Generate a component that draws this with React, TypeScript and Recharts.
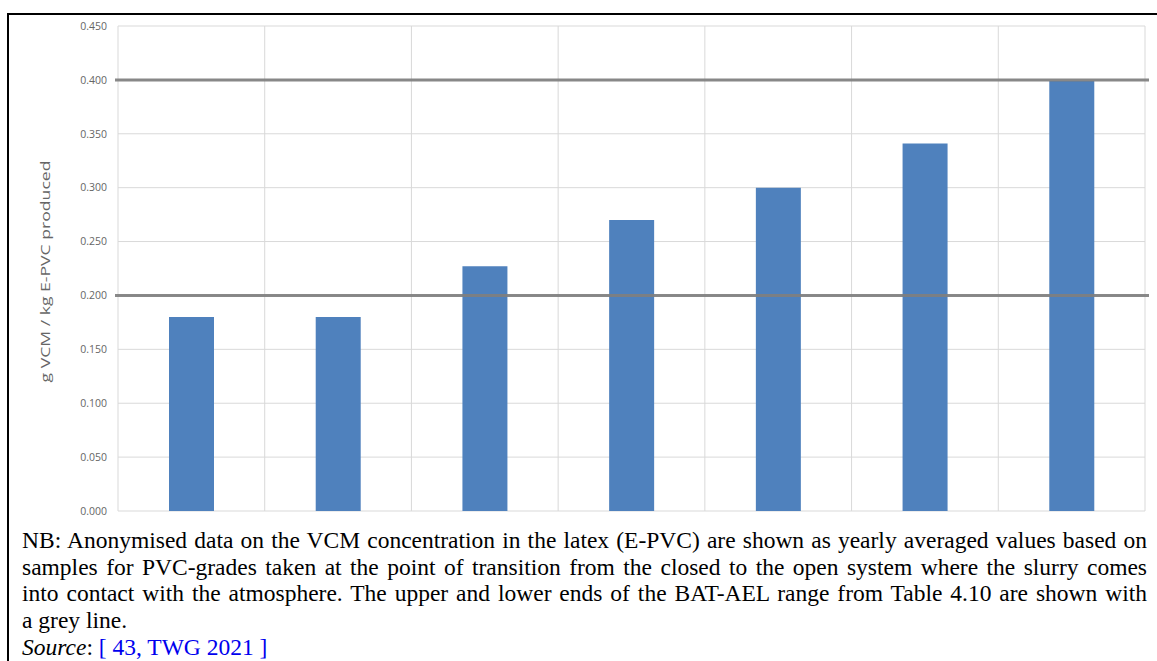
import React from 'react';
import { BarChart, Bar, XAxis, YAxis, CartesianGrid, ReferenceLine, Label } from 'recharts';

// Anonymised plants (no labels shown on the axis)
const categories = ['1', '2', '3', '4', '5', '6', '7'];
const vcmValues = [0.18, 0.18, 0.227, 0.27, 0.3, 0.341, 0.399];
const yTicks = [0, 0.05, 0.1, 0.15, 0.2, 0.25, 0.3, 0.35, 0.4, 0.45];
const batAelLower = 0.2;
const batAelUpper = 0.4;
const yAxisLabel = 'g VCM / kg E-PVC produced';
const captionLines = [
  'NB: Anonymised data on the VCM concentration in the latex (E-PVC) are shown as yearly averaged values based on',
  'samples for PVC-grades taken at the point of transition from the closed to the open system where the slurry comes',
  'into contact with the atmosphere. The upper and lower ends of the BAT-AEL range from Table 4.10 are shown with',
  'a grey line.',
];
const sourceLabel = 'Source';
const sourceRef = '[ 43, TWG 2021 ]';

const data = categories.map((c, i) => ({ name: c, value: vcmValues[i] }));

const RefShape = (props: any) => {
  const { x1, y1, x2, y2 } = props;
  return (
    <line
      x1={x1 - 3}
      y1={y1}
      x2={x2 + 4}
      y2={y2}
      stroke="#7f7f7f"
      strokeWidth={3}
      strokeOpacity={0.92}
    />
  );
};

const YLabel = (props: any) => {
  const vb = props.viewBox || {};
  const cy = vb.y + vb.height / 2 + 3;
  const x = 50;
  return (
    <text
      x={x}
      y={cy}
      transform={`rotate(-90 ${x} ${cy})`}
      textAnchor="middle"
      fontFamily="'Open Sans', sans-serif"
      fontSize={12.5}
      fill="#666"
      textLength={222}
      lengthAdjust="spacingAndGlyphs"
    >
      {yAxisLabel}
    </text>
  );
};

export default function App() {
  return (
    <div style={{ position: 'relative', width: 1157, height: 661, background: '#fff', overflow: 'hidden' }}>
      <style>{'body{margin:0;overflow:hidden;background:#fff;}'}</style>
      <div
        style={{
          position: 'absolute',
          left: 7,
          top: 13,
          width: 1300,
          height: 800,
          borderTop: '2px solid #000',
          borderLeft: '2px solid #000',
        }}
      />
      <div style={{ position: 'absolute', left: 0, top: 0 }}>
        <BarChart
          width={1157}
          height={530}
          data={data}
          margin={{ top: 26, right: 12, bottom: 19, left: 0 }}
        >
          <CartesianGrid
            stroke="#d9d9d9"
            strokeWidth={1}
            verticalCoordinatesGenerator={({ offset }: any) => {
              const n = categories.length;
              const arr: number[] = [];
              for (let i = 0; i <= n; i++) arr.push(offset.left + (i * offset.width) / n);
              return arr;
            }}
          />
          <XAxis dataKey="name" hide />
          <YAxis
            width={118}
            domain={[0, 0.45]}
            ticks={yTicks}
            tickFormatter={(v: number) => v.toFixed(3)}
            axisLine={false}
            tickLine={false}
            tickMargin={5}
            tick={{ fontSize: 10.5, fill: '#666', fontFamily: "'Open Sans', sans-serif" }}
            interval={0}
          >
            <Label content={<YLabel />} />
          </YAxis>
          <Bar dataKey="value" fill="#4f81bd" barSize={45} isAnimationActive={false} />
          <ReferenceLine y={batAelUpper} shape={<RefShape />} />
          <ReferenceLine y={batAelLower} shape={<RefShape />} />
        </BarChart>
      </div>
      <div
        style={{
          position: 'absolute',
          left: 22,
          top: 527,
          width: 1125,
          fontFamily: "'Liberation Serif', 'Times New Roman', serif",
          fontSize: 23.5,
          lineHeight: '26.7px',
          color: '#000',
        }}
      >
        {captionLines.map((line, i) => (
          <div
            key={i}
            style={{
              textAlign: 'justify',
              textAlignLast: i < captionLines.length - 1 ? 'justify' : 'left',
              whiteSpace: 'nowrap',
            }}
          >
            {line}
          </div>
        ))}
        <div>
          <i>{sourceLabel}</i>: <span style={{ color: '#0000ee' }}>{sourceRef}</span>
        </div>
      </div>
    </div>
  );
}
